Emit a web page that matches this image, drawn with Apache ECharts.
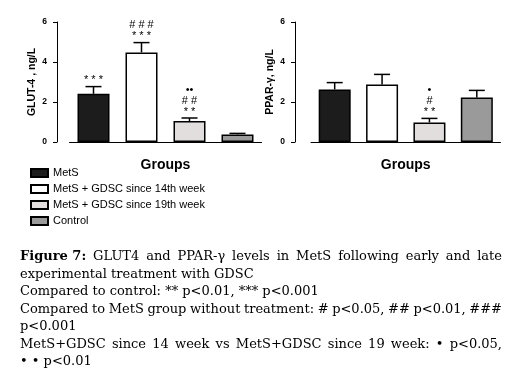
<!DOCTYPE html>
<html>
<head>
<meta charset="utf-8">
<script src="https://cdn.jsdelivr.net/npm/echarts@6/dist/echarts.min.js"></script>
<style>
  html, body { margin: 0; padding: 0; background: #fff; }
  #chart { width: 527px; height: 390px; }
</style>
</head>
<body>
<div id="chart"></div>
<script>
// groups (legend + bars)
const groups = ['MetS', 'MetS + GDSC since 14th week', 'MetS + GDSC since 19th week', 'Control']
const groupColors = ['#1c1c1c', '#ffffff', '#e2dede', '#9a9a9a']

// GLUT-4, ng/L : mean and upper SEM
const glutMean = [2.41, 4.48, 1.05, 0.38]
const glutSem = [0.36, 0.49, 0.15, 0.05]
const glutMarks = [['* * *'], ['* * *', '# # #'], ['* *', '# #', '••'], []]

// PPAR-γ, ng/L : mean and upper SEM
const pparMean = [2.63, 2.87, 0.98, 2.22]
const pparSem = [0.34, 0.51, 0.2, 0.36]
const pparMarks = [[], [], ['* *', '#', '•'], []]

const captionLines = [
  { text: 'Figure 7: GLUT4 and PPAR-γ levels in MetS following early and late', justify: true },
  { text: 'experimental treatment with GDSC', justify: false },
  { text: 'Compared to control: ** p<0.01, *** p<0.001', justify: false },
  { text: 'Compared to MetS group without treatment: # p<0.05, ## p<0.01, ###', justify: true },
  { text: 'p<0.001', justify: false },
  { text: 'MetS+GDSC since 14 week vs MetS+GDSC since 19 week: • p<0.05,', justify: true },
  { text: '• • p<0.01', justify: false }
]

const sans = 'Liberation Sans, Arial, sans-serif'
const serif = 'DejaVu Serif, serif'
const capFont = '13px ' + serif

function barSeries(gi, values) {
  return groups.map((name, i) => ({
    type: 'bar',
    name: name,
    xAxisIndex: gi,
    yAxisIndex: gi,
    barWidth: 32,
    barGap: '-100%',
    data: values.map((v, j) => (j === i ? v : '-')),
    itemStyle: { color: groupColors[i], borderColor: '#000', borderWidth: 1.5 }
  }))
}

function errorSeries(gi, mean, sem, marks) {
  return {
    type: 'custom',
    xAxisIndex: gi,
    yAxisIndex: gi,
    z: 5,
    data: mean.map((v, i) => [i, v, v + sem[i]]),
    renderItem: function(params, api) {
      const i = api.value(0)
      const base = api.coord([i, api.value(1)])
      const top = api.coord([i, api.value(2)])
      const children = [
        { type: 'line', shape: { x1: base[0], y1: base[1], x2: top[0], y2: top[1] }, style: { stroke: '#000', lineWidth: 1.5 } },
        { type: 'line', shape: { x1: top[0] - 8, y1: top[1], x2: top[0] + 8, y2: top[1] }, style: { stroke: '#000', lineWidth: 1.5 } }
      ]
      marks[i].forEach((t, k) => {
        children.push({
          type: 'text',
          style: {
            text: t, x: top[0], y: top[1] - 1 - k * 11,
            align: 'center', verticalAlign: 'bottom',
            font: '11px ' + sans, fill: '#000'
          }
        })
      })
      return { type: 'group', children: children }
    }
  }
}

function yAxis(gi, name, offset) {
  return {
    type: 'value',
    gridIndex: gi,
    min: 0,
    max: 6,
    interval: 2,
    offset: offset,
    name: name,
    nameLocation: 'middle',
    nameGap: 19,
    nameTextStyle: { fontFamily: sans, fontSize: 10.5, fontWeight: 'bold', color: '#000' },
    axisLine: { show: true, lineStyle: { color: '#000', width: 1 } },
    axisTick: { show: true, length: 4, lineStyle: { color: '#000' } },
    axisLabel: { fontFamily: sans, fontSize: 8.5, fontWeight: 'bold', color: '#000', margin: 10 },
    splitLine: { show: false }
  }
}

function xAxis(gi) {
  return {
    type: 'category',
    gridIndex: gi,
    data: groups,
    offset: 13,
    name: 'Groups',
    nameLocation: 'middle',
    nameGap: 3,
    nameTextStyle: { fontFamily: sans, fontSize: 14, fontWeight: 'bold', color: '#000' },
    axisLine: { show: true, lineStyle: { color: '#000', width: 1 } },
    axisTick: { show: false },
    axisLabel: { show: false }
  }
}

// justified caption lines: words spread between left and right margins
const measureCtx = document.createElement('canvas').getContext('2d')
function captionGraphics() {
  const left = 20, right = 502, top0 = 257, step = 17.5
  const out = []
  captionLines.forEach((line, li) => {
    const y = top0 + li * step
    const words = line.text.split(' ')
    if (li === 0) {
      words.splice(0, 2, 'Figure 7:')
    }
    const fonts = words.map((w, k) => (li === 0 && k === 0 ? 'bold ' : '') + capFont)
    const widths = words.map((w, k) => {
      measureCtx.font = fonts[k]
      return measureCtx.measureText(w).width
    })
    measureCtx.font = capFont
    const space = measureCtx.measureText(' ').width
    const total = widths.reduce((a, b) => a + b, 0)
    const gap = line.justify ? (right - left - total) / (words.length - 1) : space
    let x = left
    words.forEach((w, k) => {
      out.push({ type: 'text', x: x, y: y, style: { text: w, font: fonts[k], fill: '#000', verticalAlign: 'middle' } })
      x += widths[k] + gap
    })
  })
  return out
}

const chart = echarts.init(document.getElementById('chart'))
chart.setOption({
  animation: false,
  backgroundColor: '#fff',
  grid: [
    { left: 69.5, top: 22, width: 192, bottom: 248 },
    { left: 311, top: 22, width: 189.5, bottom: 248 }
  ],
  xAxis: [xAxis(0), xAxis(1)],
  yAxis: [yAxis(0, 'GLUT-4 , ng/L', 12.5), yAxis(1, 'PPAR-γ, ng/L', 16)],
  legend: {
    orient: 'vertical',
    left: 30,
    top: 167,
    padding: 0,
    icon: 'rect',
    itemWidth: 17,
    itemHeight: 8,
    itemGap: 4,
    selectedMode: false,
    textStyle: { fontFamily: sans, fontSize: 11, lineHeight: 12, color: '#000' },
    data: groups
  },
  graphic: captionGraphics(),
  series: [
    ...barSeries(0, glutMean),
    ...barSeries(1, pparMean),
    errorSeries(0, glutMean, glutSem, glutMarks),
    errorSeries(1, pparMean, pparSem, pparMarks)
  ]
})
</script>
</body>
</html>
